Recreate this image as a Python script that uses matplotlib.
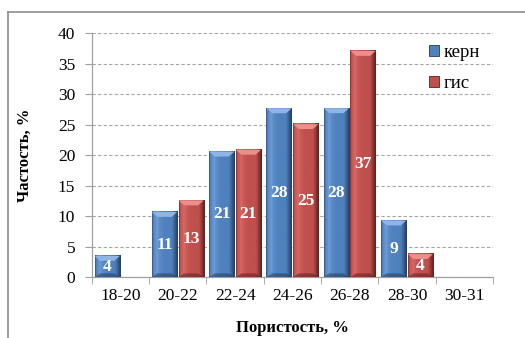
import numpy as np
import matplotlib
matplotlib.use("Agg")
import matplotlib.pyplot as plt
from matplotlib.patches import Polygon, Patch
from matplotlib.colors import LinearSegmentedColormap
from matplotlib.lines import Line2D

# Porosity histogram: core samples vs. well logging
categories = ["18-20", "20-22", "22-24", "24-26", "26-28", "28-30", "30-31"]
kern = [3.5, 10.7, 20.6, 27.7, 27.7, 9.3, 0]
gis = [0, 12.6, 20.9, 25.1, 37.1, 3.8, 0]
series_names = ["керн", "гис"]
y_ticks = [0, 5, 10, 15, 20, 25, 30, 35, 40]

serif = "Liberation Serif"

palettes = {
    "керн": {"dark": "#223c5f", "body": "#4f81bd", "light": "#6f9cd6", "cap": "#8fb4e6"},
    "гис": {"dark": "#5c1f1d", "body": "#c0504d", "light": "#d66a67", "cap": "#ec8e8b"},
}

fig = plt.figure(figsize=(5.25, 3.38), dpi=100)
ax = fig.add_axes([0.175, 0.1796, 0.764, 0.722])

x = np.arange(len(categories))
w = 0.44
gap = 0.025


def shade_bars(bars, pal):
    cmap = LinearSegmentedColormap.from_list(
        "shade", [pal["dark"], pal["body"], pal["light"], pal["body"], pal["body"], pal["dark"]])
    prof = np.concatenate([np.linspace(0, 0.15, 3), np.linspace(0.2, 0.45, 20),
                           np.linspace(0.5, 0.7, 40), np.linspace(0.72, 1.0, 30)])
    grad = prof[np.newaxis, :]
    for b in bars:
        h = b.get_height()
        if h <= 0:
            continue
        x0 = b.get_x()
        bw = b.get_width()
        ax.imshow(grad, extent=[x0, x0 + bw, 0, h], aspect="auto", cmap=cmap,
                  vmin=0, vmax=1, zorder=3, interpolation="bicubic")
        dy = 0.8
        inset = bw * 0.22
        ax.add_patch(Polygon([(x0, h), (x0 + bw, h), (x0 + bw - inset, h - dy),
                              (x0 + inset, h - dy)], closed=True,
                             facecolor=pal["cap"], edgecolor="none", zorder=4))
        ax.add_patch(Polygon([(x0, 0), (x0 + bw, 0), (x0 + bw - inset, dy * 0.8),
                              (x0 + inset, dy * 0.8)], closed=True,
                             facecolor=pal["dark"], alpha=0.55, edgecolor="none", zorder=4))
        ax.text(x0 + bw / 2, h / 2, "%.0f" % h, ha="center", va="center",
                color="white", fontsize=12.5, fontweight="bold", family=serif, zorder=5)


bars_k = ax.bar(x - (w + gap) / 2, kern, width=w, color=palettes["керн"]["body"], zorder=2)
bars_g = ax.bar(x + (w + gap) / 2, gis, width=w, color=palettes["гис"]["body"], zorder=2)
shade_bars(bars_k, palettes["керн"])
shade_bars(bars_g, palettes["гис"])

ax.set_xlim(-0.5, len(categories) - 0.5)
ax.set_ylim(0, 40)
ax.set_yticks(y_ticks)
ax.set_yticklabels([str(v) for v in y_ticks], family=serif, fontsize=12.5)
ax.set_xticks(x)
ax.set_xticklabels(categories, family=serif, fontsize=12.5)
ax.set_xticks(np.arange(len(categories) + 1) - 0.5, minor=True)
ax.tick_params(axis="x", which="major", length=0, pad=8)
ax.tick_params(axis="x", which="minor", length=5, color="#a0a0a0")
ax.tick_params(axis="y", length=5, color="#a0a0a0", pad=7)

ax.grid(axis="y", linestyle=(0, (3, 2)), color="#a6a6a6", linewidth=0.8, zorder=0)
ax.set_axisbelow(True)
for side in ["top", "right"]:
    ax.spines[side].set_visible(False)
for side in ["left", "bottom"]:
    ax.spines[side].set_color("#a0a0a0")
    ax.spines[side].set_linewidth(0.9)

ax.set_xlabel("Пористость, %", family=serif, fontsize=12, fontweight="bold", labelpad=11)
ax.set_ylabel("Частость, %", family=serif, fontsize=12, fontweight="bold", labelpad=18)

handles = [Patch(facecolor=palettes[n]["body"], edgecolor=palettes[n]["dark"], linewidth=0.6)
           for n in series_names]
fig.legend(handles, series_names, loc="upper left", bbox_to_anchor=(0.785, 0.92),
           frameon=False, handlelength=0.55, handleheight=0.55, handletextpad=0.25,
           labelspacing=0.75, prop={"family": serif, "size": 13.5})

# chart frame
fig.add_artist(Line2D([0.016, 1.0], [0.965, 0.965], color="#8c8c8c", linewidth=1.2))
fig.add_artist(Line2D([0.016, 0.016], [0.0, 0.965], color="#8c8c8c", linewidth=1.2))

fig.savefig("out.png", dpi=100)
